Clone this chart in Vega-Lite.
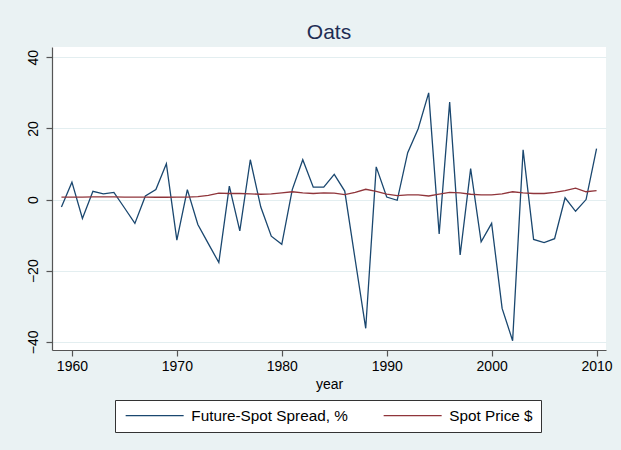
{
  "$schema": "https://vega.github.io/schema/vega-lite/v6.json",
  "autosize": "none",
  "width": 554,
  "height": 303,
  "padding": {"left": 52, "top": 47, "right": 15, "bottom": 100},
  "background": "#EAF2F3",
  "title": {"text": "Oats", "fontSize": 21, "font": "Liberation Sans", "fontWeight": "normal", "color": "#1E2D53", "anchor": "middle", "offset": 4},
  "config": {
    "view": {"fill": "white", "stroke": null},
    "font": "Liberation Sans",
    "axis": {"domainColor": "#555555", "tickColor": "#555555", "labelColor": "#000000", "titleColor": "#000000", "labelFont": "Liberation Sans", "titleFont": "Liberation Sans", "labelFontSize": 14, "titleFontSize": 14, "titleFontWeight": "normal", "tickSize": 6, "domainWidth": 1.2, "tickWidth": 1.2, "gridColor": "#E3EEF0", "gridWidth": 1.2}
  },
  "data": {"values": [
    {"year": 1959, "spread": -2.1, "price": 0.7},
    {"year": 1960, "spread": 4.9, "price": 0.7},
    {"year": 1961, "spread": -5.3, "price": 0.7},
    {"year": 1962, "spread": 2.3, "price": 0.75},
    {"year": 1963, "spread": 1.6, "price": 0.75},
    {"year": 1964, "spread": 2.0, "price": 0.75},
    {"year": 1965, "spread": -2.3, "price": 0.7},
    {"year": 1966, "spread": -6.7, "price": 0.7},
    {"year": 1967, "spread": 1.0, "price": 0.7},
    {"year": 1968, "spread": 2.8, "price": 0.65},
    {"year": 1969, "spread": 10.1, "price": 0.65},
    {"year": 1970, "spread": -11.4, "price": 0.7},
    {"year": 1971, "spread": 2.8, "price": 0.7},
    {"year": 1972, "spread": -7.0, "price": 0.8},
    {"year": 1973, "spread": -12.4, "price": 1.2},
    {"year": 1974, "spread": -17.7, "price": 1.8},
    {"year": 1975, "spread": 3.8, "price": 1.7},
    {"year": 1976, "spread": -8.8, "price": 1.7},
    {"year": 1977, "spread": 11.2, "price": 1.6},
    {"year": 1978, "spread": -2.1, "price": 1.5},
    {"year": 1979, "spread": -10.3, "price": 1.6},
    {"year": 1980, "spread": -12.6, "price": 1.9},
    {"year": 1981, "spread": 2.8, "price": 2.2},
    {"year": 1982, "spread": 11.2, "price": 1.9},
    {"year": 1983, "spread": 3.5, "price": 1.7},
    {"year": 1984, "spread": 3.5, "price": 1.9},
    {"year": 1985, "spread": 7.1, "price": 1.8},
    {"year": 1986, "spread": 2.4, "price": 1.4},
    {"year": 1987, "spread": -17.0, "price": 2.0},
    {"year": 1988, "spread": -36.2, "price": 2.9},
    {"year": 1989, "spread": 9.2, "price": 2.3},
    {"year": 1990, "spread": 0.7, "price": 1.5},
    {"year": 1991, "spread": -0.2, "price": 1.1},
    {"year": 1992, "spread": 13.2, "price": 1.3},
    {"year": 1993, "spread": 19.9, "price": 1.3},
    {"year": 1994, "spread": 30.0, "price": 1.0},
    {"year": 1995, "spread": -9.7, "price": 1.5},
    {"year": 1996, "spread": 27.4, "price": 2.0},
    {"year": 1997, "spread": -15.6, "price": 1.9},
    {"year": 1998, "spread": 8.7, "price": 1.5},
    {"year": 1999, "spread": -11.9, "price": 1.3},
    {"year": 2000, "spread": -6.7, "price": 1.3},
    {"year": 2001, "spread": -30.6, "price": 1.6},
    {"year": 2002, "spread": -39.7, "price": 2.2},
    {"year": 2003, "spread": 14.0, "price": 1.9},
    {"year": 2004, "spread": -11.2, "price": 1.7},
    {"year": 2005, "spread": -12.1, "price": 1.7},
    {"year": 2006, "spread": -11.0, "price": 2.0},
    {"year": 2007, "spread": 0.5, "price": 2.5},
    {"year": 2008, "spread": -3.3, "price": 3.2},
    {"year": 2009, "spread": 0.0, "price": 2.2},
    {"year": 2010, "spread": 14.3, "price": 2.5}
  ]},
  "transform": [{"fold": ["spread", "price"], "as": ["series", "value"]}],
  "mark": {"type": "line", "strokeWidth": 1.3, "clip": true},
  "encoding": {
    "x": {"field": "year", "type": "quantitative",
      "scale": {"domain": [1958.1, 2010.9], "nice": false, "zero": false},
      "axis": {"values": [1960, 1970, 1980, 1990, 2000, 2010], "format": "d", "grid": false, "title": "year", "labelPadding": 3, "titlePadding": 4}},
    "y": {"field": "value", "type": "quantitative",
      "scale": {"domain": [-42.3, 42.9], "nice": false, "zero": false},
      "axis": {"values": [-40, -20, 0, 20, 40], "grid": true, "title": null, "labelAngle": -90, "labelAlign": "center", "labelBaseline": "bottom", "labelPadding": 6}},
    "color": {"field": "series", "type": "nominal",
      "scale": {"domain": ["spread", "price"], "range": ["#1A476F", "#90353B"]},
      "legend": {"title": null, "orient": "none", "legendX": 63, "legendY": 353, "direction": "horizontal",
        "labelExpr": "datum.value == 'spread' ? 'Future-Spot Spread, %' : 'Spot Price $'",
        "symbolType": "M-1,0H10.6", "symbolSize": 100, "symbolStrokeWidth": 1.3, "labelOffset": 53, "columnPadding": 33,
        "labelFontSize": 15.3, "labelFont": "Liberation Sans", "labelColor": "#000000", "padding": 8,
        "fillColor": "white", "strokeColor": "#333333", "cornerRadius": 0}}
  }
}
